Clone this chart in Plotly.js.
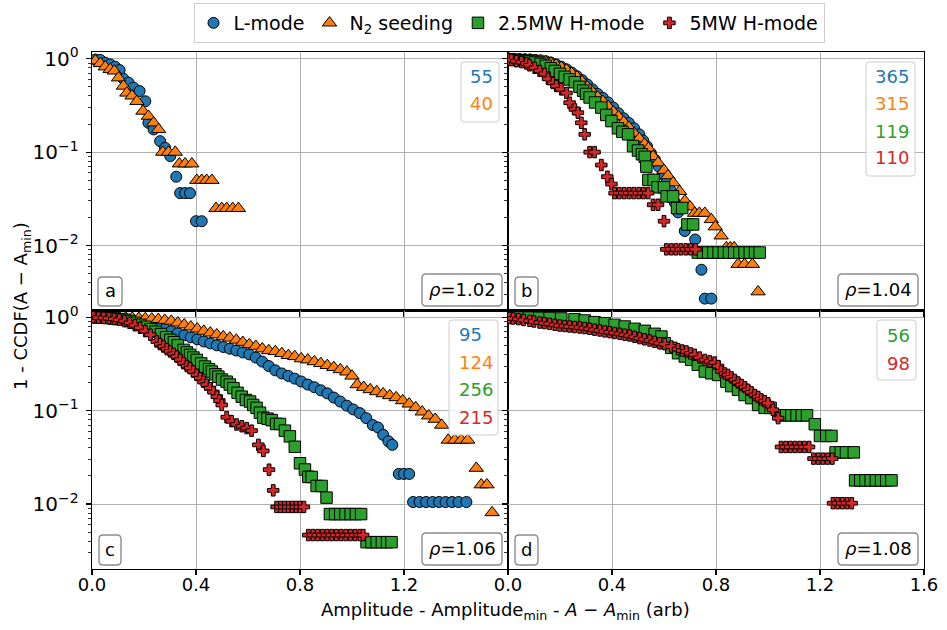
<!DOCTYPE html>
<html><head><meta charset="utf-8">
<script src="https://cdn.plot.ly/plotly-3.0.1.min.js"></script>
<style>body{margin:0;padding:0;background:#fff}#chart{width:947px;height:630px}</style>
</head><body><div id="chart"></div>
<script>
// ---------- data ----------
const seriesNames = ['L-mode', 'N<sub>2</sub> seeding', '2.5MW H-mode', '5MW H-mode'];

// panel a
const aLx = [0.013,0.032,0.051,0.07,0.089,0.106,0.121,0.141,0.16,0.183,0.205,0.217,0.237,0.262,0.281,0.301,0.324,0.339,0.358,0.377,0.4,0.422];
const aLy = [0.98,0.97,0.906,0.87,0.82,0.755,0.61,0.553,0.49,0.45,0.35,0.206,0.175,0.131,0.111,0.0906,0.0545,0.0364,0.0364,0.0364,0.0182,0.0182];
const aNx = [0.013,0.032,0.051,0.07,0.086,0.102,0.121,0.134,0.154,0.173,0.196,0.217,0.237,0.256,0.272,0.294,0.32,0.336,0.358,0.384,0.403,0.422,0.441,0.461,0.477,0.499,0.518,0.541,0.563];
const aNy = [0.95,0.89,0.82,0.77,0.74,0.625,0.51,0.43,0.4,0.35,0.275,0.243,0.206,0.175,0.1,0.1,0.1,0.075,0.075,0.075,0.05,0.05,0.05,0.05,0.025,0.025,0.025,0.025,0.025];

// panel b
const bLx = [0.005,0.025,0.045,0.065,0.085,0.105,0.125,0.145,0.165,0.185,0.205,0.225,0.245,0.265,0.285,0.305,0.325,0.345,0.365,0.385,0.405,0.425,0.445,0.465,0.485,0.505,0.52,0.535,0.55,0.565,0.58,0.595,0.61,0.625,0.641,0.654,0.68,0.72,0.744,0.757,0.782];
const bLy = [1.0,0.995,0.99,0.985,0.98,0.97,0.96,0.94,0.91,0.87,0.82,0.77,0.71,0.65,0.59,0.53,0.47,0.42,0.38,0.34,0.3,0.26,0.23,0.205,0.18,0.155,0.133,0.115,0.097,0.083,0.07,0.058,0.048,0.039,0.029,0.0226,0.0143,0.0116,0.0055,0.0027,0.0027];
const bNx = [0.005,0.025,0.045,0.065,0.085,0.105,0.125,0.145,0.165,0.185,0.205,0.225,0.245,0.265,0.285,0.305,0.325,0.345,0.365,0.385,0.405,0.425,0.445,0.465,0.485,0.505,0.525,0.54,0.558,0.577,0.6,0.615,0.635,0.66,0.68,0.7,0.718,0.736,0.757,0.782,0.797,0.82,0.84,0.855,0.87,0.885,0.91,0.94,0.962];
const bNy = [0.99,0.985,0.98,0.975,0.97,0.96,0.95,0.93,0.9,0.86,0.81,0.76,0.7,0.64,0.57,0.5,0.44,0.39,0.35,0.31,0.27,0.24,0.21,0.185,0.16,0.14,0.122,0.11,0.09,0.077,0.064,0.056,0.047,0.038,0.03,0.026,0.0222,0.0222,0.0222,0.019,0.0159,0.0127,0.0095,0.0095,0.0095,0.0063,0.0063,0.0063,0.0032];
const bGx = [0.005,0.025,0.045,0.065,0.085,0.105,0.125,0.145,0.165,0.18,0.2,0.218,0.237,0.257,0.275,0.289,0.3,0.314,0.335,0.359,0.378,0.398,0.423,0.44,0.462,0.481,0.5,0.515,0.526,0.532,0.54,0.56,0.575,0.6,0.61,0.635,0.65,0.67,0.69,0.712,0.73,0.75,0.77,0.79,0.81,0.83,0.85,0.87,0.89,0.91,0.93,0.95,0.968];
const bGy = [0.98,0.97,0.96,0.945,0.93,0.91,0.88,0.84,0.79,0.74,0.69,0.64,0.6,0.56,0.5,0.455,0.42,0.385,0.34,0.3,0.25,0.215,0.18,0.165,0.155,0.116,0.104,0.095,0.089,0.07,0.0504,0.0504,0.042,0.042,0.0336,0.0336,0.0252,0.0252,0.0168,0.0168,0.0084,0.0084,0.0084,0.0084,0.0084,0.0084,0.0084,0.0084,0.0084,0.0084,0.0084,0.0084,0.0084];
const bRx = [0.005,0.013,0.032,0.052,0.071,0.083,0.103,0.122,0.141,0.154,0.173,0.186,0.205,0.225,0.237,0.257,0.269,0.282,0.295,0.314,0.333,0.359,0.382,0.398,0.41,0.428,0.447,0.466,0.484,0.503,0.521,0.539,0.558,0.577,0.6,0.609,0.628,0.646,0.665,0.684,0.702,0.721];
const bRy = [0.98,0.97,0.94,0.92,0.89,0.85,0.8,0.74,0.69,0.61,0.55,0.51,0.47,0.43,0.338,0.287,0.264,0.206,0.155,0.1,0.1,0.0727,0.0545,0.0455,0.0364,0.0364,0.0364,0.0364,0.0364,0.0364,0.0364,0.0364,0.0273,0.0273,0.0182,0.0091,0.0091,0.0091,0.0091,0.0091,0.0091,0.0091];

// panel c
const cLx = [0.005,0.03,0.055,0.08,0.105,0.13,0.155,0.18,0.205,0.23,0.255,0.28,0.305,0.33,0.355,0.38,0.405,0.43,0.455,0.48,0.505,0.53,0.555,0.58,0.605,0.63,0.655,0.68,0.705,0.73,0.755,0.78,0.805,0.83,0.855,0.88,0.905,0.93,0.955,0.98,1.005,1.03,1.055,1.08,1.1,1.12,1.14,1.155,1.18,1.2,1.22,1.235,1.26,1.285,1.31,1.335,1.36,1.385,1.41,1.44];
const cLy = [1.0,0.995,0.99,0.98,0.97,0.95,0.93,0.9,0.86,0.82,0.78,0.745,0.71,0.675,0.64,0.61,0.58,0.55,0.525,0.5,0.48,0.46,0.44,0.42,0.4,0.37,0.335,0.3,0.27,0.25,0.235,0.22,0.205,0.19,0.178,0.165,0.153,0.138,0.125,0.113,0.103,0.094,0.083,0.07,0.066,0.055,0.047,0.043,0.021,0.021,0.021,0.0105,0.0105,0.0105,0.0105,0.0105,0.0105,0.0105,0.0105,0.0105];
const cNx = [0.005,0.03,0.055,0.08,0.105,0.13,0.155,0.18,0.205,0.23,0.255,0.28,0.305,0.33,0.355,0.38,0.405,0.43,0.455,0.48,0.505,0.53,0.555,0.58,0.605,0.63,0.655,0.68,0.705,0.73,0.755,0.78,0.805,0.83,0.855,0.88,0.905,0.93,0.955,0.98,1.0,1.02,1.045,1.07,1.095,1.12,1.145,1.17,1.195,1.22,1.245,1.27,1.295,1.32,1.345,1.37,1.395,1.42,1.445,1.478,1.497,1.519,1.539];
const cNy = [1.0,1.0,0.995,0.99,0.99,0.985,0.98,0.975,0.97,0.96,0.95,0.93,0.91,0.87,0.83,0.79,0.75,0.71,0.68,0.65,0.62,0.6,0.57,0.54,0.51,0.49,0.46,0.44,0.43,0.41,0.39,0.38,0.36,0.35,0.335,0.32,0.305,0.29,0.275,0.26,0.235,0.19,0.178,0.168,0.16,0.152,0.145,0.138,0.128,0.118,0.108,0.097,0.088,0.081,0.07,0.0484,0.0484,0.0484,0.0484,0.0242,0.0161,0.0161,0.0081];
const cGx = [0.005,0.025,0.045,0.065,0.085,0.105,0.125,0.145,0.165,0.185,0.205,0.225,0.245,0.265,0.285,0.301,0.315,0.33,0.352,0.365,0.377,0.39,0.403,0.42,0.435,0.45,0.461,0.475,0.486,0.5,0.518,0.53,0.544,0.56,0.576,0.592,0.608,0.62,0.633,0.646,0.659,0.675,0.691,0.708,0.723,0.742,0.761,0.78,0.8,0.819,0.832,0.845,0.864,0.883,0.902,0.915,0.935,0.955,0.975,0.995,1.015,1.035,1.056,1.075,1.095,1.115,1.135,1.152];
const cGy = [1.0,0.995,0.99,0.98,0.97,0.955,0.94,0.91,0.87,0.83,0.79,0.745,0.7,0.66,0.61,0.573,0.54,0.5,0.447,0.42,0.395,0.37,0.349,0.32,0.296,0.278,0.262,0.245,0.231,0.215,0.204,0.19,0.174,0.155,0.141,0.13,0.125,0.115,0.107,0.095,0.084,0.082,0.079,0.072,0.072,0.061,0.053,0.041,0.0273,0.0234,0.0195,0.0195,0.0156,0.0156,0.0117,0.0078,0.0078,0.0078,0.0078,0.0078,0.0078,0.0078,0.0039,0.0039,0.0039,0.0039,0.0039,0.0039];
const cRx = [0.005,0.025,0.045,0.065,0.085,0.105,0.125,0.145,0.165,0.185,0.205,0.225,0.249,0.262,0.275,0.288,0.301,0.314,0.326,0.339,0.352,0.365,0.377,0.39,0.403,0.416,0.429,0.441,0.454,0.467,0.48,0.49,0.499,0.518,0.537,0.556,0.576,0.595,0.614,0.64,0.659,0.681,0.697,0.71,0.725,0.74,0.755,0.77,0.785,0.8,0.815,0.832,0.85,0.868,0.886,0.904,0.922,0.94,0.958,0.976,0.994,1.012,1.03,1.043];
const cRy = [1.0,0.99,0.985,0.975,0.96,0.94,0.91,0.87,0.82,0.77,0.71,0.65,0.55,0.515,0.485,0.455,0.43,0.405,0.379,0.35,0.322,0.3,0.285,0.262,0.241,0.222,0.204,0.19,0.174,0.158,0.141,0.128,0.115,0.085,0.077,0.071,0.068,0.065,0.061,0.043,0.037,0.0233,0.014,0.0093,0.0093,0.0093,0.0093,0.0093,0.0093,0.0093,0.0093,0.00465,0.00465,0.00465,0.00465,0.00465,0.00465,0.00465,0.00465,0.00465,0.00465,0.00465,0.00465,0.00465];

// panel d
const dGx = [0.005,0.04,0.08,0.12,0.16,0.205,0.256,0.295,0.333,0.372,0.41,0.449,0.487,0.526,0.564,0.59,0.603,0.628,0.654,0.68,0.705,0.73,0.757,0.782,0.808,0.84,0.859,0.885,0.91,0.936,0.962,0.987,1.01,1.05,1.07,1.09,1.11,1.13,1.15,1.18,1.2,1.224,1.244,1.26,1.28,1.3,1.33,1.335,1.355,1.375,1.395,1.415,1.435,1.455,1.475];
const dGy = [1.0,0.995,0.99,0.985,0.98,0.97,0.953,0.922,0.885,0.863,0.828,0.795,0.751,0.715,0.664,0.621,0.527,0.47,0.412,0.38,0.35,0.31,0.262,0.251,0.241,0.204,0.183,0.167,0.147,0.136,0.115,0.107,0.107,0.089,0.089,0.089,0.089,0.089,0.089,0.0714,0.0536,0.0536,0.0536,0.0357,0.0357,0.0357,0.0357,0.0179,0.0179,0.0179,0.0179,0.0179,0.0179,0.0179,0.0179];
const dRx = [0.005,0.02,0.04,0.06,0.083,0.1,0.122,0.14,0.16,0.18,0.199,0.218,0.237,0.256,0.276,0.295,0.314,0.333,0.353,0.372,0.391,0.41,0.43,0.449,0.468,0.487,0.506,0.525,0.545,0.564,0.583,0.603,0.628,0.654,0.67,0.686,0.702,0.718,0.737,0.757,0.776,0.795,0.808,0.821,0.834,0.846,0.859,0.872,0.885,0.898,0.911,0.923,0.936,0.949,0.962,0.974,0.987,1.0,1.019,1.039,1.05,1.068,1.086,1.104,1.122,1.14,1.158,1.175,1.193,1.211,1.229,1.247,1.25,1.268,1.286,1.304,1.322];
const dRy = [0.98,0.97,0.955,0.935,0.915,0.9,0.877,0.865,0.85,0.83,0.815,0.805,0.795,0.785,0.776,0.765,0.751,0.735,0.721,0.705,0.692,0.678,0.664,0.65,0.637,0.617,0.597,0.58,0.563,0.545,0.527,0.514,0.485,0.455,0.44,0.43,0.41,0.396,0.37,0.349,0.337,0.327,0.3,0.262,0.25,0.241,0.227,0.213,0.2,0.188,0.178,0.167,0.157,0.147,0.14,0.132,0.126,0.12,0.102,0.083,0.0408,0.0408,0.0408,0.0408,0.0408,0.0408,0.0408,0.0306,0.0306,0.0306,0.0306,0.0306,0.0102,0.0102,0.0102,0.0102,0.0102];

// per-panel annotation texts
const panelLetters = ['a', 'b', 'c', 'd'];
const rhoValues = ['1.02', '1.04', '1.06', '1.08'];
const countsA = ['55', '40'];
const countsB = ['365', '315', '119', '110'];
const countsC = ['95', '124', '256', '215'];
const countsD = ['56', '98'];

const xTickVals = [0, 0.4, 0.8, 1.2, 1.6];
const xTickText = ['0.0', '0.4', '0.8', '1.2', '1.6'];
const yTickVals = [1, 0.1, 0.01];
const yTickText = ['10<sup>0</sup>', '10<sup>−1</sup>', '10<sup>−2</sup>'];

// ---------- styles ----------
const COL = {L: '#1f77b4', N: '#ff7f0e', G: '#2ca02c', R: '#d62728'};
const SYM = {L: 'circle', N: 'triangle-up', G: 'square', R: 'cross'};
const SIZE = {L: 11, N: 12.5, G: 11.5, R: 9.5};
const NAME = {L: seriesNames[0], N: seriesNames[1], G: seriesNames[2], R: seriesNames[3]};
const shown = {};
function tr(key, x, y, ax) {
  const first = !shown[key]; shown[key] = true;
  return {
    type: 'scatter', mode: 'markers', x: x, y: y,
    xaxis: 'x' + ax, yaxis: 'y' + ax,
    name: NAME[key], legendgroup: key, showlegend: first,
    marker: {symbol: SYM[key], size: SIZE[key], color: COL[key], line: {color: '#000', width: 1}},
    hoverinfo: 'skip'
  };
}
const data = [
  tr('L', aLx, aLy, ''), tr('N', aNx, aNy, ''),
  tr('L', bLx, bLy, '2'), tr('N', bNx, bNy, '2'), tr('G', bGx, bGy, '2'), tr('R', bRx, bRy, '2'),
  tr('L', cLx, cLy, '3'), tr('N', cNx, cNy, '3'), tr('G', cGx, cGy, '3'), tr('R', cRx, cRy, '3'),
  tr('G', dGx, dGy, '4'), tr('R', dRx, dRy, '4')
];

// ---------- axes ----------
const minorVals = [];
for (let e = -3; e <= 0; e++) for (let m = 2; m <= 9; m++) minorVals.push(m * Math.pow(10, e));
function xa(dom, anchor, labels) {
  return {domain: dom, anchor: anchor, range: [0, 1.6], tickmode: 'array', tickvals: xTickVals,
    ticktext: labels || xTickText, showticklabels: !!labels,
    showgrid: true, gridcolor: '#b0b0b0', gridwidth: 1, zeroline: false,
    showline: true, mirror: true, linecolor: '#000', linewidth: 1.3,
    ticks: 'outside', ticklen: 5, tickwidth: 1.2, tickcolor: '#000', ticklabelstandoff: -6,
    tickfont: {size: 18, color: '#000'}};
}
function ya(dom, anchor, showLabels) {
  return {domain: dom, anchor: anchor, type: 'log', range: [-2.696, 0.072], tickmode: 'array',
    tickvals: yTickVals, ticktext: yTickText, showticklabels: showLabels,
    showgrid: true, gridcolor: '#b0b0b0', gridwidth: 1, zeroline: false,
    showline: true, mirror: true, linecolor: '#000', linewidth: 1.3,
    ticks: 'outside', ticklen: 5, tickwidth: 1.2, tickcolor: '#000', ticklabelstandoff: 3,
    minor: {tickmode: 'array', tickvals: minorVals, ticks: 'outside', ticklen: 3, tickwidth: 0.8, tickcolor: '#000', showgrid: false},
    tickfont: {size: 20, color: '#000'}};
}

// ---------- boxes & texts (pixel layout helpers) ----------
const L0 = 92, R0 = 924, T0 = 52, B0 = 569;
function X(px) { return (px - L0) / (R0 - L0); }
function Y(py) { return (B0 - py) / (B0 - T0); }
function rbox(x0, y0, x1, y1, r, lc, lw) {
  const p = (x, y) => X(x).toFixed(5) + ',' + Y(y).toFixed(5);
  const d = 'M' + p(x0 + r, y0) + ' L' + p(x1 - r, y0) + ' Q' + p(x1, y0) + ' ' + p(x1, y0 + r) +
    ' L' + p(x1, y1 - r) + ' Q' + p(x1, y1) + ' ' + p(x1 - r, y1) +
    ' L' + p(x0 + r, y1) + ' Q' + p(x0, y1) + ' ' + p(x0, y1 - r) +
    ' L' + p(x0, y0 + r) + ' Q' + p(x0, y0) + ' ' + p(x0 + r, y0) + ' Z';
  return {type: 'path', xref: 'paper', yref: 'paper', path: d, line: {color: lc, width: lw},
    fillcolor: 'rgba(255,255,255,0.85)', layer: 'above'};
}
function txt(text, px, py, color, xanchor, size) {
  return {text: text, x: X(px), y: Y(py), xref: 'paper', yref: 'paper', showarrow: false,
    xanchor: xanchor || 'center', yanchor: 'middle', font: {size: size || 18, color: color || '#000'}};
}
const shapes = [];
const annotations = [];
const panels = [
  {let: [98, 277, 122, 306], rho: [422, 274, 502, 306], cnt: [461, 62, 499, 122], cl: 468, cy: [77, 103], counts: countsA, cols: ['L', 'N']},
  {let: [515, 277, 538, 306], rho: [838, 274, 918, 306], cnt: [866, 62, 915, 176], cl: 873, cy: [77, 103, 131, 157], counts: countsB, cols: ['L', 'N', 'G', 'R']},
  {let: [99, 535, 121, 565], rho: [422, 533, 502, 565], cnt: [449, 320, 498, 435], cl: 457, cy: [334, 362, 389, 417], counts: countsC, cols: ['L', 'N', 'G', 'R']},
  {let: [515, 535, 538, 565], rho: [838, 533, 918, 565], cnt: [877, 320, 916, 380], cl: 885, cy: [335, 363], counts: countsD, cols: ['G', 'R']}
];
panels.forEach((p, i) => {
  shapes.push(rbox(p.let[0], p.let[1], p.let[2], p.let[3], 4, '#8c8c8c', 1.4));
  shapes.push(rbox(p.rho[0], p.rho[1], p.rho[2], p.rho[3], 4, '#8c8c8c', 1.4));
  shapes.push(rbox(p.cnt[0], p.cnt[1], p.cnt[2], p.cnt[3], 3, '#cccccc', 1));
  annotations.push(txt(panelLetters[i], (p.let[0] + p.let[2]) / 2, (p.let[1] + p.let[3]) / 2 - 1));
  annotations.push(txt('<i>ρ</i>=' + rhoValues[i], (p.rho[0] + p.rho[2]) / 2, (p.rho[1] + p.rho[3]) / 2 - 1));
  p.counts.forEach((c, k) => annotations.push(txt(c, p.cl, p.cy[k], COL[p.cols[k]], 'left')));
});
// axis titles
annotations.push(txt('Amplitude - Amplitude<sub>min</sub> - <i>A</i> − <i>A</i><sub>min</sub> (arb)', 505, 611));
annotations.push(Object.assign(txt('1 - CCDF(A − A<sub>min</sub>)', 22, 306), {textangle: -90}));

const layout = {
  width: 947, height: 630,
  margin: {l: L0, r: 947 - R0, t: T0, b: 630 - B0, pad: 0, autoexpand: false},
  paper_bgcolor: '#fff', plot_bgcolor: '#fff',
  font: {family: 'DejaVu Sans', size: 18, color: '#000'},
  xaxis: xa([0, 0.5], 'y'), yaxis: ya([0.5, 1], 'x', true),
  xaxis2: xa([0.5, 1], 'y2'), yaxis2: ya([0.5, 1], 'x2', false),
  xaxis3: xa([0, 0.5], 'y3', ['0.0', '0.4', '0.8', '1.2', '']), yaxis3: ya([0, 0.5], 'x3', true),
  xaxis4: xa([0.5, 1], 'y4', xTickText), yaxis4: ya([0, 0.5], 'x4', false),
  showlegend: true,
  legend: {orientation: 'h', x: X(509), xanchor: 'center', y: Y(3), yanchor: 'top',
    font: {size: 19, color: '#000'}, bordercolor: '#cccccc', borderwidth: 1, bgcolor: '#fff',
    itemwidth: 30, tracegroupgap: 0},
  shapes: shapes, annotations: annotations
};
Plotly.newPlot('chart', data, layout, {staticPlot: true, displayModeBar: false});
</script>
</body></html>
